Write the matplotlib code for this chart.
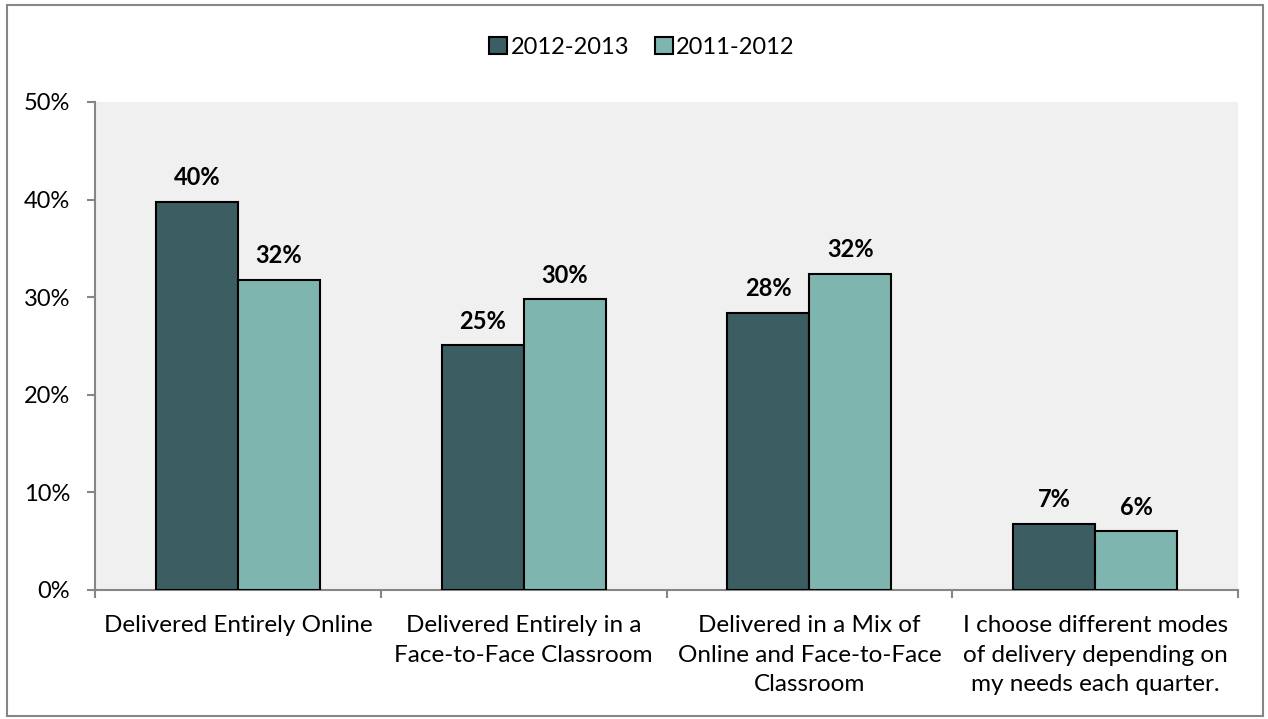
import numpy as np
import matplotlib
matplotlib.use("Agg")
from matplotlib import pyplot as plt
from matplotlib.patches import Rectangle

plt.rcParams['font.family'] = ['Lato', 'DejaVu Sans']

categories = [
    "Delivered Entirely Online",
    "Delivered Entirely in a\nFace-to-Face Classroom",
    "Delivered in a Mix of\nOnline and Face-to-Face\nClassroom",
    "I choose different modes\nof delivery depending on\nmy needs each quarter.",
]
series_names = ["2012-2013", "2011-2012"]
values_2012_2013 = [39.8, 25.1, 28.4, 6.8]
values_2011_2012 = [31.8, 29.8, 32.4, 6.0]
y_ticks = [0, 10, 20, 30, 40, 50]

DARK = "#3c5e63"
LIGHT = "#7fb5af"
AXIS_GRAY = "#868686"

W, H = 1268, 719
fig = plt.figure(figsize=(W / 100, H / 100), dpi=100)
fig.patch.set_facecolor("white")

# outer chart border
fig.patches.append(Rectangle((7 / W, 3 / H), (1263 - 7) / W, (714 - 3) / H,
                             transform=fig.transFigure, fill=False,
                             edgecolor=AXIS_GRAY, linewidth=1.5))

ax = fig.add_axes([95 / W, (H - 590) / H, (1238 - 95) / W, (590 - 102) / H])
ax.set_facecolor("#f0f0f0")

x = np.arange(len(categories))
width = 0.287
bars_new = ax.bar(x - width / 2, values_2012_2013, width, color=DARK,
                  edgecolor="black", linewidth=1.5, label=series_names[0], zorder=3)
bars_old = ax.bar(x + width / 2, values_2011_2012, width, color=LIGHT,
                  edgecolor="black", linewidth=1.5, label=series_names[1], zorder=3)

for bars, vals in [(bars_new, values_2012_2013), (bars_old, values_2011_2012)]:
    for b, v in zip(bars, vals):
        ax.annotate(f"{v:.0f}%", (b.get_x() + b.get_width() / 2, v),
                    xytext=(0, 9), textcoords="offset points",
                    ha="center", va="bottom", fontsize=17, fontweight="bold")

ax.set_xlim(-0.5, len(categories) - 0.5)
ax.set_ylim(0, 50)
ax.set_yticks(y_ticks)
ax.set_yticklabels([f"{t}%" for t in y_ticks], fontsize=17)

ax.set_xticks(np.arange(len(categories) + 1) - 0.5)
ax.set_xticklabels([])
ax.set_xticks(x, minor=True)
ax.set_xticklabels(categories, minor=True, fontsize=17.5, linespacing=1.5)
ax.tick_params(axis="x", which="minor", length=0, pad=18)
ax.tick_params(axis="x", which="major", length=6, color=AXIS_GRAY, width=1.5)
ax.tick_params(axis="y", length=6, color=AXIS_GRAY, width=1.5, pad=12)

for side in ["top", "right"]:
    ax.spines[side].set_visible(False)
for side in ["left", "bottom"]:
    ax.spines[side].set_color(AXIS_GRAY)
    ax.spines[side].set_linewidth(1.5)

fig.legend(loc="center", bbox_to_anchor=(642 / W, 1 - 47 / H), ncol=2,
           frameon=False, fontsize=17, handlelength=0.75, handleheight=0.75,
           handletextpad=0.15, columnspacing=1.1)

fig.savefig("out.png", dpi=100)
